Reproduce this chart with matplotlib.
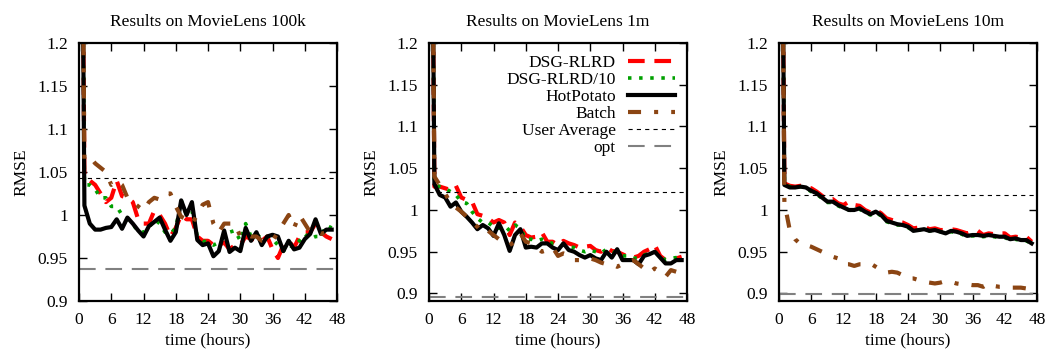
import numpy as np
import matplotlib
matplotlib.use("Agg")
import matplotlib.pyplot as plt

plt.rcParams['font.family'] = ['Liberation Serif', 'DejaVu Serif']
plt.rcParams['lines.scale_dashes'] = False

hours = [0.5] + list(range(1, 48))

# MovieLens 100k
rlrd_100k = [1.45, 1.045, 1.04, 1.035, 1.025, 1.015, 1.02, 1.04, 1.022, 1.02, 1.015, 0.995, 0.99,
             0.99, 1.005, 1.0, 0.99, 0.975, 0.985, 1.0, 0.995, 0.995, 0.975, 0.97, 0.97, 0.965,
             0.965, 0.968, 0.96, 0.965, 0.965, 0.975, 0.972, 0.972, 0.97, 0.975, 0.96, 0.95,
             0.965, 0.97, 0.962, 0.975, 0.98, 0.98, 0.99, 0.98, 0.975, 0.972]
rlrd10_100k = [1.45, 1.035, 1.035, 1.03, 1.02, 1.02, 1.01, 1.01, 1.0, 0.995, 0.99, 0.98, 0.98,
               0.985, 0.995, 0.99, 0.98, 0.978, 0.985, 1.017, 1.0, 1.005, 0.975, 0.97, 0.968,
               0.965, 0.968, 0.975, 0.98, 0.982, 0.97, 0.99, 0.975, 0.978, 0.972, 0.975, 0.972,
               0.965, 0.958, 0.965, 0.962, 0.97, 0.978, 0.972, 0.975, 0.975, 0.988, 0.985]
hot_100k = [1.45, 1.011, 0.99, 0.983, 0.983, 0.985, 0.986, 0.995, 0.984, 0.997, 0.99, 0.982,
            0.975, 0.987, 0.992, 0.997, 0.983, 0.97, 0.98, 1.017, 1.0, 1.015, 0.971, 0.965,
            0.967, 0.952, 0.958, 0.982, 0.957, 0.962, 0.958, 0.985, 0.97, 0.98, 0.965, 0.975,
            0.977, 0.975, 0.958, 0.97, 0.96, 0.962, 0.972, 0.978, 0.995, 0.978, 0.983, 0.983]
batch_100k = [1.45, 1.065, 1.068, 1.06, 1.055, 1.05, 1.035, 1.04, 1.035, 1.02, 1.015, 1.01,
              1.005, 1.015, 1.02, 1.018, 1.025, 1.025, 1.01, 0.998, 0.995, 0.99, 1.0, 1.012,
              1.015, 0.99, 0.98, 0.99, 0.99, 0.99, 0.975, 0.978, 0.975, 0.975, 0.97, 0.97, 0.97,
              0.98, 0.99, 1.0, 0.985, 1.0, 0.99, 0.98, 0.98, 0.978, 0.98, 0.982]

# MovieLens 1m
rlrd_1m = [1.45, 1.028, 1.028, 1.026, 1.024, 1.029, 1.015, 1.012, 1.01, 0.995, 0.993, 0.99,
           0.985, 0.988, 0.985, 0.97, 0.985, 0.98, 0.97, 0.967, 0.968, 0.973, 0.962, 0.962,
           0.958, 0.963, 0.96, 0.958, 0.955, 0.956, 0.957, 0.952, 0.95, 0.955, 0.951, 0.95,
           0.947, 0.944, 0.943, 0.945, 0.95, 0.953, 0.958, 0.945, 0.94, 0.94, 0.942, 0.944]
rlrd10_1m = [1.45, 1.03, 1.028, 1.026, 1.022, 1.018, 1.01, 1.008, 0.998, 0.99, 0.985, 0.985,
             0.98, 0.978, 0.982, 0.975, 0.982, 0.978, 0.965, 0.965, 0.963, 0.965, 0.962, 0.96,
             0.96, 0.958, 0.956, 0.955, 0.952, 0.95, 0.952, 0.95, 0.948, 0.953, 0.95, 0.948,
             0.945, 0.945, 0.942, 0.943, 0.946, 0.948, 0.95, 0.945, 0.94, 0.942, 0.943, 0.945]
hot_1m = [1.45, 1.031, 1.018, 1.015, 1.004, 1.009, 0.998, 0.992, 0.985, 0.977, 0.982, 0.978,
          0.969, 0.984, 0.97, 0.951, 0.97, 0.977, 0.955, 0.956, 0.955, 0.96, 0.96, 0.955, 0.952,
          0.96, 0.952, 0.95, 0.946, 0.943, 0.946, 0.942, 0.94, 0.95, 0.943, 0.953, 0.94, 0.94,
          0.94, 0.935, 0.945, 0.947, 0.95, 0.943, 0.936, 0.936, 0.94, 0.94]
batch_1m = [1.45, 1.04, 1.03, 1.02, 1.008, 1.003, 0.998, 0.992, 0.985, 0.98, 0.972, 0.975,
            0.97, 0.965, 0.96, 0.958, 0.962, 0.972, 0.962, 0.96, 0.955, 0.95, 0.952, 0.955,
            0.945, 0.948, 0.946, 0.94, 0.94, 0.94, 0.942, 0.94, 0.937, 0.935, 0.935, 0.932,
            0.935, 0.938, 0.94, 0.935, 0.93, 0.925, 0.93, 0.925, 0.92, 0.928, 0.926, 0.925]

# MovieLens 10m
rlrd_10m = [1.45, 1.032, 1.029, 1.028, 1.029, 1.028, 1.026, 1.022, 1.017, 1.012, 1.013, 1.008,
            1.006, 1.01, 1.006, 1.005, 1.0, 0.997, 1.0, 0.996, 0.99, 0.988, 0.986, 0.985, 0.982,
            0.978, 0.979, 0.98, 0.977, 0.978, 0.976, 0.976, 0.977, 0.976, 0.974, 0.972, 0.974,
            0.975, 0.97, 0.972, 0.971, 0.972, 0.972, 0.967, 0.968, 0.967, 0.968, 0.962]
rlrd10_10m = [1.45, 1.031, 1.028, 1.027, 1.028, 1.026, 1.022, 1.019, 1.014, 1.009, 1.009,
              1.005, 1.002, 1.0, 0.999, 1.001, 0.997, 0.994, 0.997, 0.993, 0.986, 0.984, 0.982,
              0.982, 0.979, 0.975, 0.976, 0.977, 0.975, 0.976, 0.974, 0.972, 0.974, 0.973,
              0.971, 0.968, 0.969, 0.969, 0.968, 0.969, 0.968, 0.967, 0.967, 0.964, 0.965,
              0.963, 0.963, 0.96]
hot_10m = [1.45, 1.03, 1.027, 1.027, 1.028, 1.027, 1.023, 1.02, 1.015, 1.01, 1.01, 1.006,
           1.003, 1.0, 1.0, 1.002, 0.998, 0.995, 0.998, 0.994, 0.987, 0.985, 0.983, 0.982, 0.98,
           0.975, 0.976, 0.977, 0.975, 0.976, 0.974, 0.972, 0.975, 0.974, 0.972, 0.969, 0.97,
           0.97, 0.969, 0.97, 0.969, 0.968, 0.968, 0.965, 0.966, 0.964, 0.964, 0.96]
batch_10m = [1.45, 1.009, 0.976, 0.965, 0.959, 0.958, 0.956, 0.953, 0.95, 0.947, 0.944, 0.942,
             0.935, 0.935, 0.933, 0.935, 0.935, 0.936, 0.932, 0.928, 0.925, 0.926, 0.925, 0.922,
             0.918, 0.918, 0.916, 0.914, 0.913, 0.912, 0.913, 0.915, 0.914, 0.912, 0.911, 0.911,
             0.91, 0.91, 0.908, 0.912, 0.909, 0.908, 0.908, 0.907, 0.907, 0.907, 0.906, 0.906]

titles = ['Results on MovieLens 100k', 'Results on MovieLens 1m', 'Results on MovieLens 10m']
user_avg = [1.043, 1.021, 1.018]
opt = [0.937, 0.896, 0.899]
ymins = [0.9, 0.891, 0.891]
series = [
    (rlrd_100k, rlrd10_100k, hot_100k, batch_100k),
    (rlrd_1m, rlrd10_1m, hot_1m, batch_1m),
    (rlrd_10m, rlrd10_10m, hot_10m, batch_10m),
]
labels = ['DSG-RLRD', 'DSG-RLRD/10', 'HotPotato', 'Batch', 'User Average', 'opt']

fig = plt.figure(figsize=(10.51, 3.56), dpi=100)
lefts = [0.0752, 0.4082, 0.7412]

for k in range(3):
    ax = fig.add_axes([lefts[k], 0.1545, 0.2455, 0.7247])
    r, g, h, b = series[k]
    ax.plot(hours, r, color='#ff0000', lw=3, dashes=(12, 7), solid_capstyle='butt',
            dash_capstyle='butt', label=labels[0])
    ax.plot(hours, g, color='#00a000', lw=2.6, dashes=(2.5, 5.5), dash_capstyle='butt',
            label=labels[1])
    ax.plot(hours, h, color='black', lw=3, label=labels[2])
    ax.plot(hours, b, color='#8b4513', lw=3, dashes=(9.4, 9.4, 2.9, 9.4),
            dash_capstyle='butt', label=labels[3])
    ax.axhline(user_avg[k], color='black', lw=0.8, dashes=(3, 3), label=labels[4])
    ax.axhline(opt[k], color='#808080', lw=1.5, dashes=(12, 7), label=labels[5])

    ax.set_xlim(0, 48)
    ax.set_ylim(ymins[k], 1.2)
    ax.set_xticks(np.arange(0, 49, 6))
    ax.set_yticks([0.9, 0.95, 1.0, 1.05, 1.1, 1.15, 1.2])
    ax.set_yticklabels(['0.9', '0.95', '1', '1.05', '1.1', '1.15', '1.2'])
    ax.tick_params(direction='in', length=6, width=1, top=True, right=True,
                   labelsize=12.5)
    ax.tick_params(axis='y', pad=8)
    ax.tick_params(axis='x', pad=8)
    for sp in ax.spines.values():
        sp.set_linewidth(1.6)
    ax.set_title(titles[k], fontsize=12.5, pad=12)
    ax.set_xlabel('time (hours)', fontsize=12.5, labelpad=3)
    ax.set_ylabel('RMSE', fontsize=12.5, labelpad=6)
    if k == 1:
        ax.legend(loc='upper right', frameon=False, markerfirst=False, fontsize=12.5,
                  handlelength=2.7, labelspacing=0.05, borderaxespad=0.3,
                  handletextpad=0.7)

fig.savefig('out.png', dpi=100)
